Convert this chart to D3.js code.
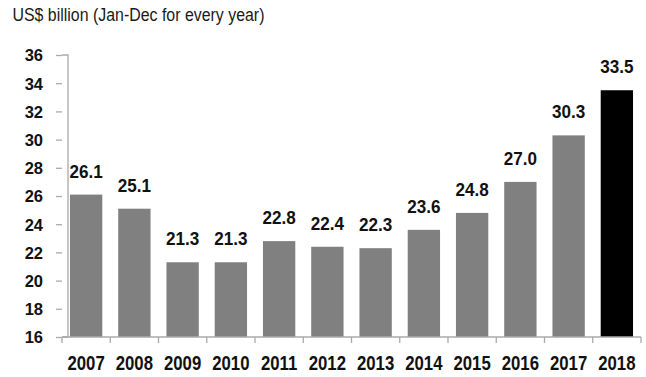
<!DOCTYPE html>
<html><head><meta charset="utf-8">
<script src="https://cdn.jsdelivr.net/npm/d3@7"></script>
<style>body{margin:0;background:#fff}svg{display:block}</style>
</head><body>
<script>
const years = ["2007","2008","2009","2010","2011","2012","2013","2014","2015","2016","2017","2018"];
const values = [26.1,25.1,21.3,21.3,22.8,22.4,22.3,23.6,24.8,27.0,30.3,33.5];
const yTicks = [16,18,20,22,24,26,28,30,32,34,36];
const subtitle = "US$ billion (Jan-Dec for every year)";

const W=646,H=377;
const font = "'Liberation Sans',Arial,sans-serif";
const svg=d3.select("body").append("svg").attr("width",W).attr("height",H);
const x=d3.scaleBand().domain(years).range([62,641]).paddingInner(0.33).paddingOuter(0.165);
const y=d3.scaleLinear().domain([16,36]).range([337,55]);

svg.append("text").attr("transform","translate(12.5,21) scale(0.86,1)").text(subtitle)
  .attr("font-family",font).attr("font-size",18.5).attr("fill","#1a1a1a");

svg.selectAll("rect.bar").data(values).enter().append("rect")
  .attr("x",(d,i)=>x(years[i])).attr("width",x.bandwidth())
  .attr("y",d=>y(d)).attr("height",d=>y(16)-y(d))
  .attr("fill",(d,i)=>i===years.length-1?"#000":"#808080");

svg.selectAll("text.lab").data(values).enter().append("text")
  .attr("transform",(d,i)=>`translate(${x(years[i])+x.bandwidth()/2},${y(d)-17}) scale(0.9,1)`)
  .attr("text-anchor","middle").attr("font-family",font).attr("font-weight","bold")
  .attr("font-size",19).attr("fill","#111").text(d=>d.toFixed(1));

const ya=svg.append("g").attr("transform","translate(62,0)")
  .call(d3.axisLeft(y).tickValues(yTicks).tickSize(6).tickPadding(13));
const xa=svg.append("g").attr("transform","translate(0,337)")
  .call(d3.axisBottom(x).tickSize(0).tickPadding(0));
[ya,xa].forEach(g=>{
  g.selectAll("path").attr("stroke","#aaa").attr("stroke-width",1.3);
  g.selectAll("line").attr("stroke","#aaa").attr("stroke-width",1.3);
  g.selectAll("text").attr("font-family",font).attr("font-weight","bold").attr("fill","#111");
});
ya.selectAll("text").attr("font-size",16.5).attr("dy","0.36em");
xa.selectAll("text").attr("font-size",19.5).attr("y",0).attr("dy",0)
  .attr("transform","translate(0,33) scale(0.86,1)");
xa.select(".domain").attr("d","M62,0H641");
const bounds = years.map(d=>x(d)-x.step()*x.paddingInner()/2).concat([641]);
xa.selectAll("line.bt").data(bounds).enter().append("line")
  .attr("x1",d=>d).attr("x2",d=>d).attr("y1",0).attr("y2",6)
  .attr("stroke","#aaa").attr("stroke-width",1.3);
ya.select(".domain").attr("d","M0,55H6V337H0");
</script>
</body></html>
